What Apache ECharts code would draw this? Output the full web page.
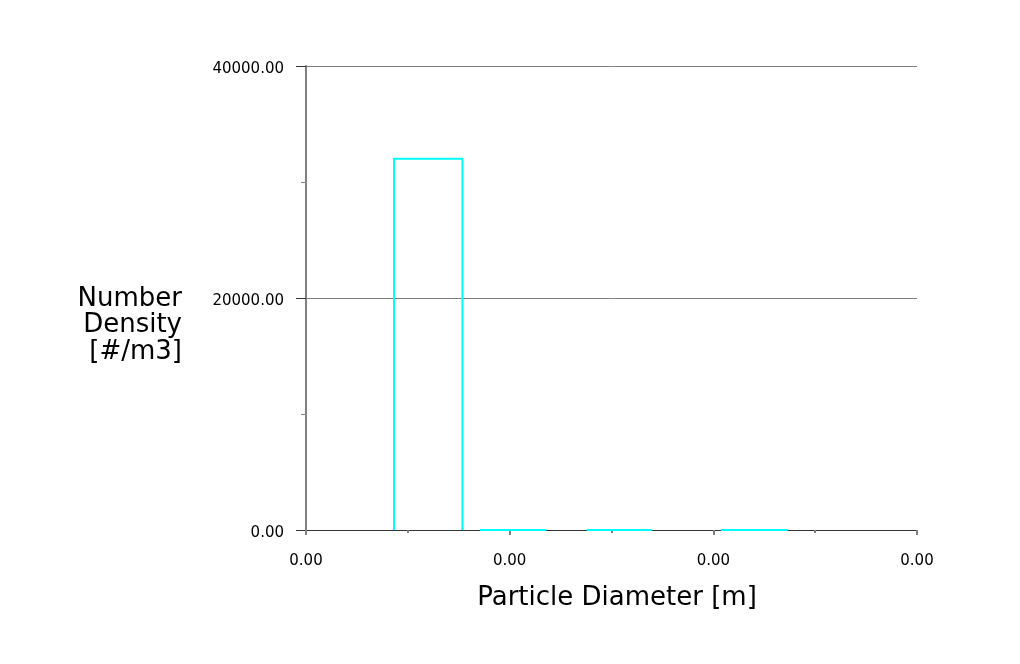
<!DOCTYPE html>
<html>
<head>
<meta charset="utf-8">
<script src="https://cdn.jsdelivr.net/npm/echarts@6/dist/echarts.min.js"></script>
<style>
html,body{margin:0;padding:0;background:#fff;}
#chart{width:1020px;height:664px;}
</style>
</head>
<body>
<div id="chart"></div>
<script>
// Particle diameter bins [m] (axis labels print as 0.00)
const binStart = [0.432e-4, 0.855e-4, 1.378e-4, 2.037e-4];
const binEnd   = [0.768e-4, 1.180e-4, 1.700e-4, 2.365e-4];
const density  = [32000, 0, 0, 0];
const yTicks = [0, 20000, 40000];
const xTitle = 'Particle Diameter [m]';
const yTitle = ['Number', 'Density', '[#/m3]'];

const data = binStart.map((s, i) => [s, binEnd[i], density[i]]);

const chart = echarts.init(document.getElementById('chart'), null, {renderer: 'canvas'});
const font = '"DejaVu Sans", sans-serif';

chart.setOption({
  animation: false,
  backgroundColor: '#ffffff',
  grid: {left: 306, right: 103, top: 66, bottom: 134, containLabel: false},
  xAxis: {
    type: 'value', min: 0, max: 3e-4, interval: 1e-4,
    axisLine: {show: true, onZero: false, lineStyle: {color: '#333333', width: 1}},
    axisTick: {show: true, length: 5, lineStyle: {color: '#808080', width: 2}},
    minorTick: {show: true, splitNumber: 2, length: 3, lineStyle: {color: '#808080', width: 2}},
    splitLine: {show: false},
    axisLabel: {fontFamily: font, fontSize: 15, color: '#000', margin: 24,
      formatter: v => v.toFixed(2)}
  },
  yAxis: {
    type: 'value', min: yTicks[0], max: yTicks[yTicks.length - 1], interval: 20000,
    axisLine: {show: true, lineStyle: {color: '#808080', width: 2}},
    axisTick: {show: true, length: 10, lineStyle: {color: '#333333', width: 1}},
    minorTick: {show: true, splitNumber: 2, length: 5, lineStyle: {color: '#808080', width: 1}},
    splitLine: {show: true, lineStyle: {color: '#808080', width: 1}},
    axisLabel: {fontFamily: font, fontSize: 15, color: '#000', margin: 22,
      formatter: v => '{v|' + v.toFixed(2) + '}',
      rich: {v: {fontFamily: font, fontSize: 15, color: '#000', padding: [6, 0, 0, 0]}}}
  },
  series: [{
    type: 'custom',
    z: 10,
    data: data,
    encode: {x: [0, 1], y: 2},
    renderItem: function (params, api) {
      const p0 = api.coord([api.value(0), 0]);
      const p1 = api.coord([api.value(1), api.value(2)]);
      return {
        type: 'polyline',
        shape: {points: [[p0[0], p0[1]], [p0[0], p1[1]], [p1[0], p1[1]], [p1[0], p0[1]]]},
        style: {stroke: '#00ffff', lineWidth: 2, fill: null}
      };
    }
  }],
  graphic: [
    {type: 'text', x: 617, y: 598,
      style: {text: xTitle, font: '26px ' + font, fill: '#000',
        align: 'center', verticalAlign: 'middle'}},
    {type: 'text', x: 182, y: 299,
      style: {text: yTitle[0], font: '26px ' + font, fill: '#000',
        align: 'right', verticalAlign: 'middle'}},
    {type: 'text', x: 182, y: 325.5,
      style: {text: yTitle[1], font: '26px ' + font, fill: '#000',
        align: 'right', verticalAlign: 'middle'}},
    {type: 'text', x: 182, y: 352,
      style: {text: yTitle[2], font: '26px ' + font, fill: '#000',
        align: 'right', verticalAlign: 'middle'}}
  ]
});
</script>
</body>
</html>
